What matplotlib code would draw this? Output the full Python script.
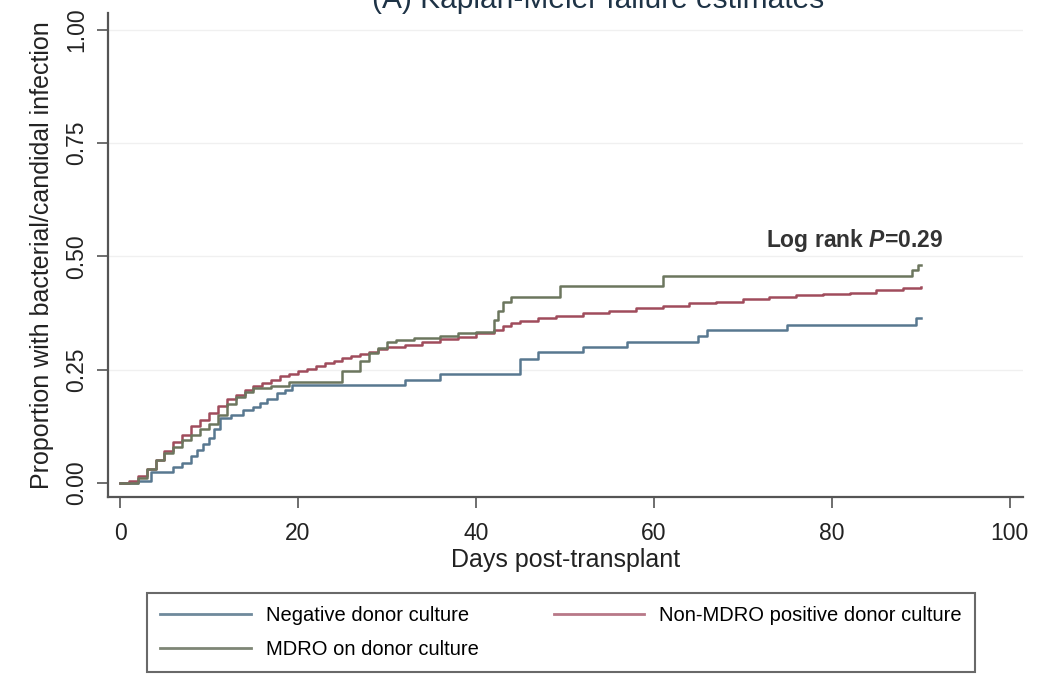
import matplotlib
matplotlib.use("Agg")
import matplotlib.pyplot as plt
from matplotlib.lines import Line2D

plt.rcParams['font.family'] = ['Liberation Sans', 'DejaVu Sans']
plt.rcParams['mathtext.fontset'] = 'custom'
plt.rcParams['mathtext.it'] = 'Liberation Sans:italic:bold'
plt.rcParams['mathtext.rm'] = 'Liberation Sans:bold'

# ---- data ----
labels = ["Negative donor culture", "Non-MDRO positive donor culture", "MDRO on donor culture"]

neg_t = [0, 2, 3.5, 6, 7, 8, 8.6, 9.3, 10, 10.6, 11.2, 12.5, 13.8, 15, 15.7, 16.5, 17.6, 18.5, 19.3,
         32, 36, 45, 47, 52, 57, 65, 66, 75, 89.5, 90]
neg_v = [0, 0.005, 0.024, 0.035, 0.045, 0.06, 0.073, 0.085, 0.10, 0.12, 0.143, 0.15, 0.16, 0.168, 0.176,
         0.185, 0.198, 0.205, 0.216, 0.227, 0.24, 0.274, 0.29, 0.30, 0.311, 0.325, 0.338, 0.349, 0.364, 0.364]

non_t = [0, 1, 2, 3, 4, 5, 6, 7, 8, 9, 10, 11, 12, 13, 14, 15, 16, 17, 18, 19, 20, 21, 22, 23, 24, 25,
         26, 27, 28, 29, 30, 32, 34, 36, 38, 40, 42, 43, 44, 45, 47, 49, 52, 55, 58, 61, 64, 67, 70,
         73, 76, 79, 82, 85, 88, 90]
non_v = [0, 0.005, 0.015, 0.03, 0.05, 0.07, 0.09, 0.105, 0.125, 0.14, 0.155, 0.17, 0.185, 0.195, 0.205,
         0.213, 0.22, 0.228, 0.235, 0.241, 0.247, 0.252, 0.258, 0.264, 0.27, 0.275, 0.28, 0.285, 0.29,
         0.295, 0.299, 0.305, 0.312, 0.318, 0.323, 0.33, 0.338, 0.347, 0.353, 0.358, 0.364, 0.368,
         0.374, 0.379, 0.385, 0.39, 0.396, 0.40, 0.405, 0.41, 0.415, 0.418, 0.42, 0.425, 0.43, 0.432]

mdro_t = [0, 2, 3, 4, 5, 6, 7, 8, 9, 10, 11, 12, 13, 14, 15, 17, 19, 25, 27, 28, 29, 30, 31, 33, 36,
          38, 40, 42, 42.5, 43, 44, 49.5, 61, 89, 89.7, 90]
mdro_v = [0, 0.01, 0.03, 0.05, 0.065, 0.08, 0.095, 0.105, 0.12, 0.13, 0.15, 0.175, 0.19, 0.2, 0.21,
          0.215, 0.222, 0.247, 0.27, 0.287, 0.298, 0.31, 0.315, 0.32, 0.325, 0.33, 0.333, 0.36, 0.38,
          0.40, 0.41, 0.435, 0.457, 0.47, 0.48, 0.48]

x_ticks = [0, 20, 40, 60, 80, 100]
y_ticks = [0.0, 0.25, 0.5, 0.75, 1.0]
y_ticklabels = ["0.00", "0.25", "0.50", "0.75", "1.00"]

colors = ['#587890', '#a04c5c', '#6c765e']
leg_colors = ['#6f8a9c', '#b87888', '#7e8676']

fig = plt.figure(figsize=(10.4, 6.75), dpi=100)
ax = fig.add_axes([108/1040, 1-497/675, (1023-108)/1040, (497-13)/675])

for t, v, c in [(neg_t, neg_v, colors[0]), (non_t, non_v, colors[1]), (mdro_t, mdro_v, colors[2])]:
    ax.step(t, v, where='post', color=c, lw=1.8)

ax.set_xlim(-1.35, 101.5)
ax.set_ylim(-0.031, 1.037)
ax.set_xticks(x_ticks)
ax.set_yticks(y_ticks)
ax.set_yticklabels(y_ticklabels, rotation=90, va='center')
for yv in [0.25, 0.5, 0.75, 1.0]:
    ax.axhline(yv, color='#f0f0f0', lw=1.0, zorder=0)
for s in ['top', 'right']:
    ax.spines[s].set_visible(False)
for s in ['left', 'bottom']:
    ax.spines[s].set_color('#555555')
    ax.spines[s].set_linewidth(1.6)
ax.tick_params(axis='both', colors='#555555', labelcolor='#222222', labelsize=16.5, length=8, width=1.2)
ax.tick_params(axis='y', pad=6)
ax.tick_params(axis='x', pad=10)
ax.set_xlabel("Days post-transplant", fontsize=18, color='#222222', labelpad=2)
ax.set_ylabel("Proportion with bacterial/candidal infection", fontsize=18, color='#222222', labelpad=8)

ax.text(82.6, 0.536, r'Log rank $\mathit{P}$=0.29', fontsize=16.5, fontweight='bold', color='#333333',
        ha='center', va='center')

fig.text(0.575, 1.0 - 8/675, "(A) Kaplan-Meier failure estimates", fontsize=21.5, color='#1e3346',
         ha='center', va='baseline')

handles = [Line2D([], [], color=leg_colors[0], lw=2),
           Line2D([], [], color=leg_colors[2], lw=2),
           Line2D([], [], color=leg_colors[1], lw=2)]
hlabels = [labels[0], labels[2], labels[1]]
leg = fig.legend(handles, hlabels, ncol=2, loc='lower left',
                 bbox_to_anchor=(147/1040, 3/675, (975-147)/1040, 82/675), mode='expand',
                 fontsize=14.5, frameon=True, fancybox=False, handlelength=4.5, handletextpad=0.75,
                 borderaxespad=0, labelspacing=0.75, borderpad=0.65)
leg.get_frame().set_edgecolor('#444444')
leg.get_frame().set_linewidth(1.5)

fig.savefig("out.png", dpi=100)
